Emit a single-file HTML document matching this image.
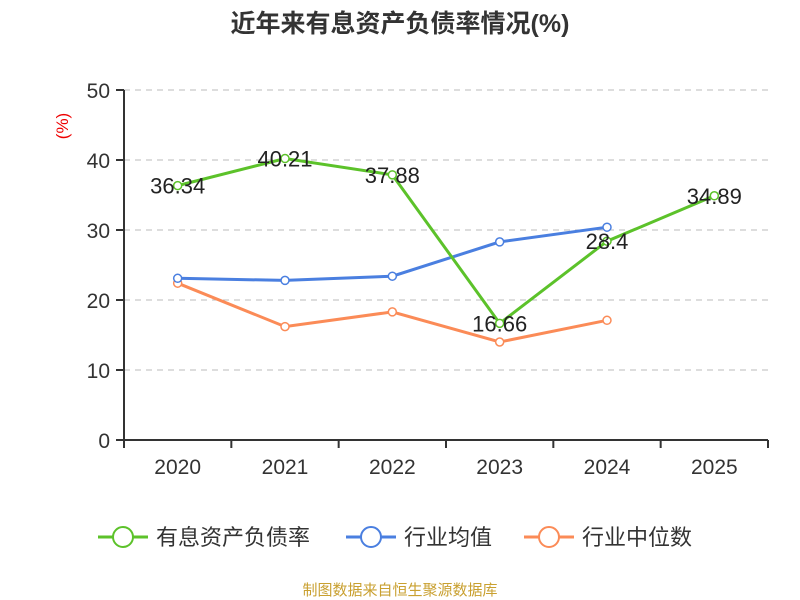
<!DOCTYPE html>
<html><head><meta charset="utf-8"><style>
body{margin:0;background:#fff;}
svg{display:block;font-family:"Liberation Sans","Noto Sans CJK SC",sans-serif;}
</style></head><body>
<svg id="c" width="800" height="600">
<text x="400" y="32" text-anchor="middle" font-size="25" font-weight="bold" fill="#333">近年来有息资产负债率情况(%)</text>
<text transform="translate(68,126) rotate(-90)" text-anchor="middle" font-size="17" fill="#e00">(%)</text>
<g id="grid"></g><g id="axes"></g><g id="series"></g>
<g>
<g><line x1="98" y1="537" x2="148" y2="537" stroke="#5cc22a" stroke-width="3"/><circle cx="123" cy="537" r="10" fill="#fff" stroke="#5cc22a" stroke-width="2"/><text x="156" y="545" font-size="22" fill="#333">有息资产负债率</text></g>
<g><line x1="346" y1="537" x2="396" y2="537" stroke="#4a7fe0" stroke-width="3"/><circle cx="371" cy="537" r="10" fill="#fff" stroke="#4a7fe0" stroke-width="2"/><text x="404" y="545" font-size="22" fill="#333">行业均值</text></g>
<g><line x1="524" y1="537" x2="574" y2="537" stroke="#fb8b57" stroke-width="3"/><circle cx="549" cy="537" r="10" fill="#fff" stroke="#fb8b57" stroke-width="2"/><text x="582" y="545" font-size="22" fill="#333">行业中位数</text></g>
</g>
<text x="400" y="595" text-anchor="middle" font-size="15" fill="#c9a030">制图数据来自恒生聚源数据库</text>
</svg>
<script>
const categories=["2020","2021","2022","2023","2024","2025"];
const debtRatio=[36.34,40.21,37.88,16.66,28.4,34.89];
const industryAvg=[23.1,22.8,23.4,28.3,30.4];
const industryMedian=[22.4,16.2,18.3,14.0,17.1];
const yTicks=[0,10,20,30,40,50];
const NS="http://www.w3.org/2000/svg";
const x0=124,x1=768,yb=440,yt=90,yMax=50;
const bw=(x1-x0)/categories.length;
const X=i=>x0+bw*(i+0.5);
const Y=v=>yb-(v/yMax)*(yb-yt);
function mk(p,t,a){const e=document.createElementNS(NS,t);for(const k in a)e.setAttribute(k,a[k]);p.appendChild(e);return e;}
const grid=document.getElementById('grid'),axes=document.getElementById('axes'),ser=document.getElementById('series');
yTicks.forEach(v=>{
 if(v>0){const g=mk(grid,'line',{x1:x0,x2:x1,y1:Y(v),y2:Y(v),stroke:'#bbb','stroke-dasharray':'6,5'});
 
 }
 const tk=mk(axes,'line',{x1:x0-8,x2:x0,y1:Y(v),y2:Y(v),stroke:'#333','stroke-width':2});
 
 
 const t=mk(axes,'text',{x:x0-14,y:Y(v)+8,'text-anchor':'end','font-size':21,fill:'#333'});t.textContent=v;
 
 
});
const ya=mk(axes,'line',{x1:x0,x2:x0,y1:yt,y2:yb,stroke:'#333','stroke-width':2});


const xa=mk(axes,'line',{x1:x0,x2:x1,y1:yb,y2:yb,stroke:'#333','stroke-width':2});


for(let i=0;i<=categories.length;i++){const l=mk(axes,'line',{x1:x0+bw*i,x2:x0+bw*i,y1:yb,y2:yb+8,stroke:'#333','stroke-width':2});
 
 }
categories.forEach((c,i)=>{const t=mk(axes,'text',{x:X(i),y:yb+34,'text-anchor':'middle','font-size':21,fill:'#333'});t.textContent=c;
 
 });
function series(data,color,name,labels){
 const g=mk(ser,'g',{});
 
 
 const pl=mk(g,'polyline',{points:data.map((v,i)=>X(i)+','+Y(v)).join(' '),fill:'none',stroke:color,'stroke-width':3});
 
 
 data.forEach((v,i)=>{const c=mk(g,'circle',{cx:X(i),cy:Y(v),r:4,fill:'#fff',stroke:color,'stroke-width':1.5});
  
  
  if(labels){const t=mk(g,'text',{x:X(i),y:Y(v)+8,'text-anchor':'middle','font-size':22,fill:'#222'});t.textContent=v;
  
  }});
}
series(industryMedian,'#fb8b57','industry-median-series',false);
series(industryAvg,'#4a7fe0','industry-average-series',false);
series(debtRatio,'#5cc22a','debt-ratio-series',true);
</script>
</body></html>
